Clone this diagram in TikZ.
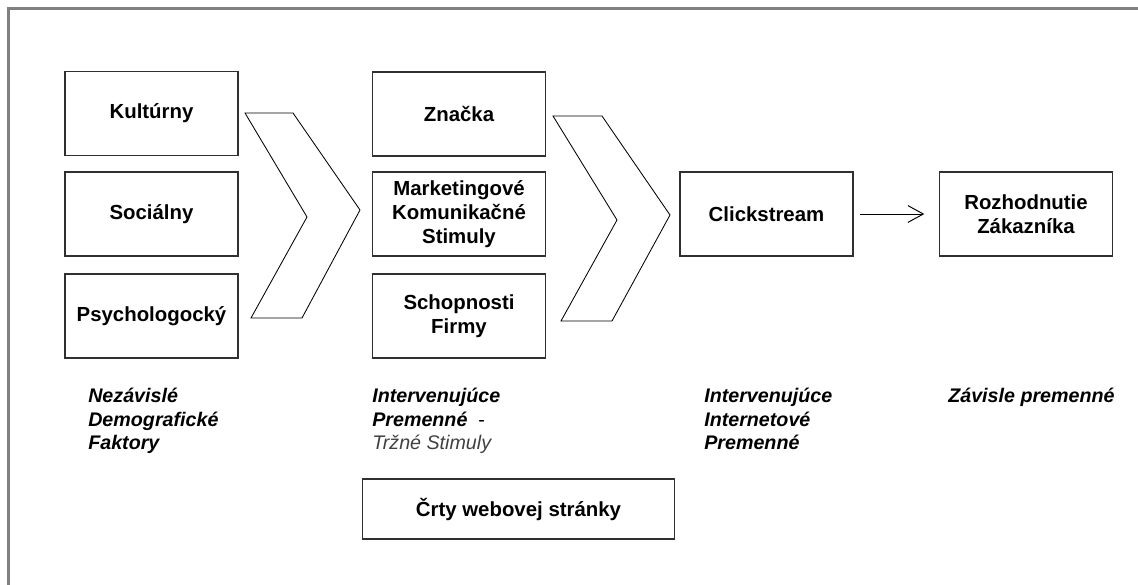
\documentclass[tikz,border=0pt]{standalone}
\usepackage{fontspec}
\setmainfont{Liberation Sans}
\usetikzlibrary{arrows.meta}
\definecolor{framegray}{RGB}{128,128,128}
\definecolor{boxline}{RGB}{48,48,48}
\definecolor{softtext}{RGB}{64,64,64}
\newcommand{\boxfont}{\bfseries\fontsize{14.5}{17}\selectfont}
\newcommand{\varfont}{\bfseries\itshape\fontsize{14}{16.8}\selectfont}

\tikzset{
  factor/.style={draw=boxline, line width=0.9pt, minimum width=4.33cm,
    minimum height=2.1cm, align=center, inner sep=2pt, font=\boxfont},
  varname/.style={anchor=north west, align=left, inner sep=0pt, font=\varfont},
  chevron/.style={draw, line width=0.6pt, line join=miter}
}

\begin{document}
\begin{tikzpicture}[x=0.025cm, y=-0.025cm, >={Straight Barb[length=11pt,width=12pt]}]
		\useasboundingbox (0,0) rectangle (1138,585);
		% frame
		\draw[framegray, line width=1.6pt] (8.5,585) -- (8.5,8.5) -- (1138,8.5);
		% demographic factors
		\node[factor] (kult) at (151.5,113.5) {Kultúrny};
		\node[factor] (soc) at (151.5,214) {Sociálny};
		\node[factor] (psych) at (151.5,316) {Psychologocký};
		% market stimuli
		\node[factor] (brand) at (459,114) {Značka};
		\node[factor] (mkt) at (459,214) {Marketingové\\Komunikačné\\Stimuly};
		\node[factor] (firm) at (459,316) {Schopnosti\\Firmy};
		% internet and outcome
		\node[factor] (click) at (766.5,214) {Clickstream};
		\node[factor] (decision) at (1026,214) {Rozhodnutie\\Zákazníka};
		\node[factor, minimum width=7.78cm, minimum height=1.5cm] (web) at (518.5,509) {Črty webovej stránky};
		% chevrons
		\draw[chevron] (245,113) -- (293,113) -- (360,210) -- (302,318) -- (251,318) -- (307,217) -- cycle;
		\draw[chevron] (553,116) -- (602,116) -- (670,215) -- (612,321) -- (561,321) -- (617,220) -- cycle;
		\draw[->, line width=0.7pt, shorten <=0.15cm, shorten >=0.36cm] (click) -- (decision);
		% variable names
		\node[varname] (indep) at (88,388) {Nezávislé\\Demografické\\Faktory};
		\node[varname] (interm) at (372,388) {Intervenujúce\\Premenné {\upshape\mdseries\ -}\\{\mdseries\color{softtext}Tržné Stimuly}};
		\node[varname] (internet) at (704,388) {Intervenujúce\\Internetové\\Premenné};
		\node[varname] (dep) at (948,388) {Závisle premenné};
	\end{tikzpicture}
\end{document}
